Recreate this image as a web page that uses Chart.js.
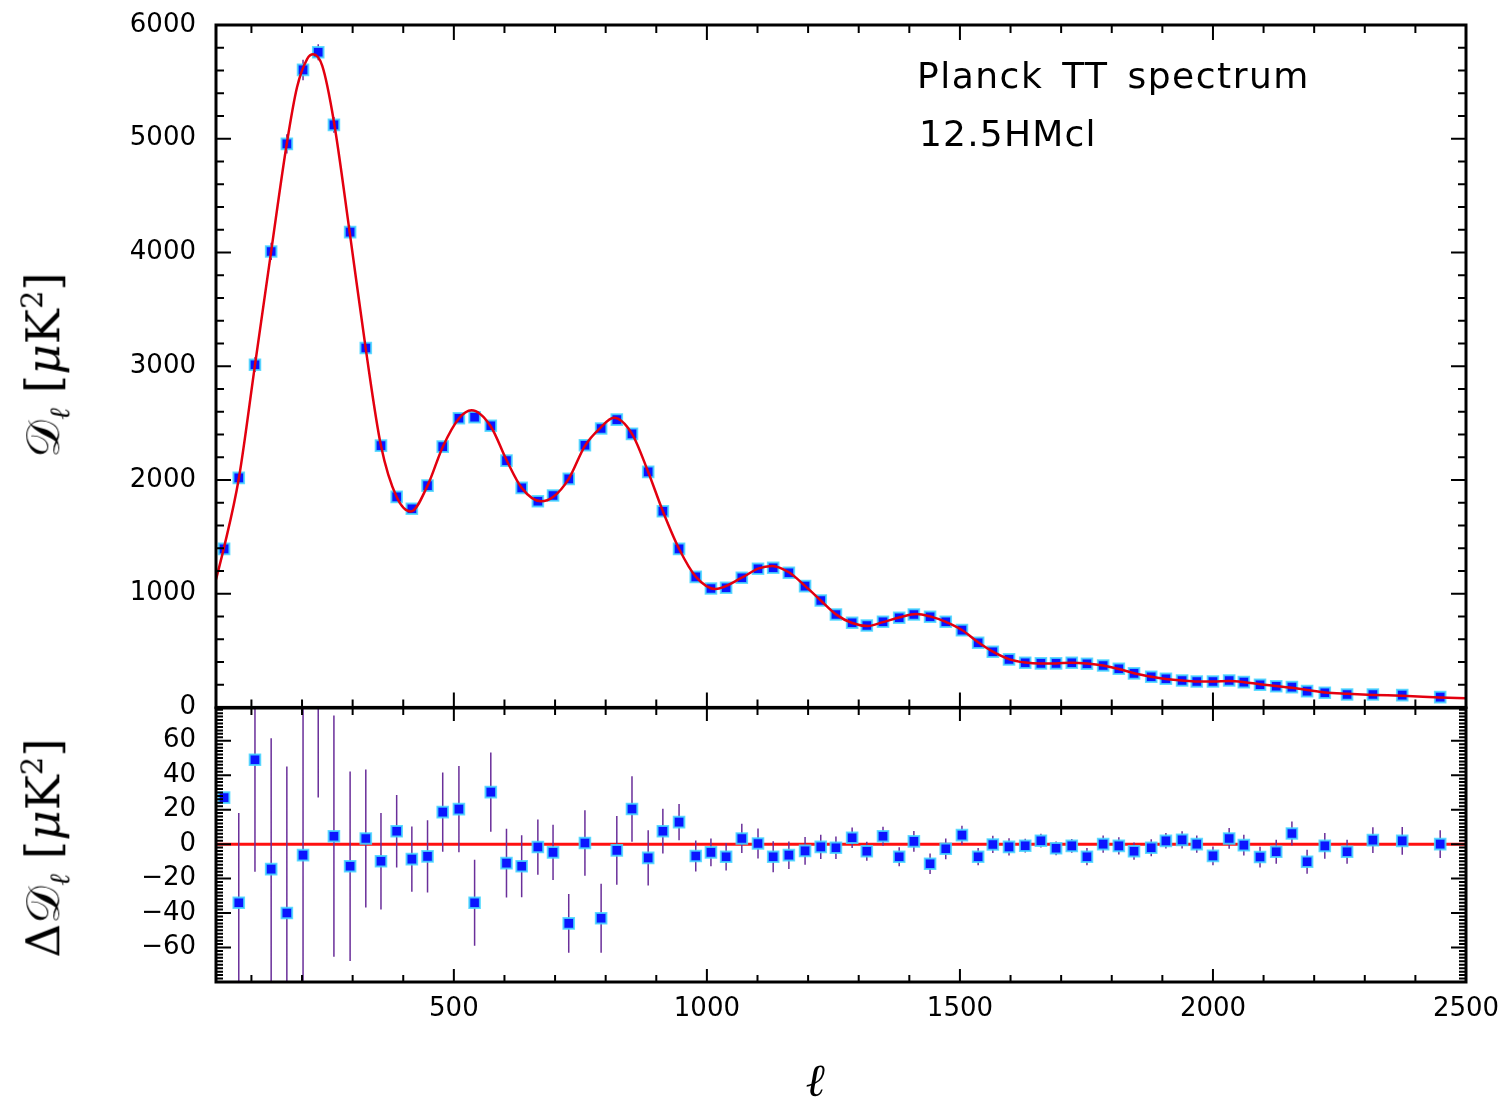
<!DOCTYPE html>
<html>
<head>
<meta charset="utf-8">
<script src="https://cdn.jsdelivr.net/npm/chart.js@4.4.1/dist/chart.umd.min.js"></script>
<style>
  html,body{margin:0;padding:0;background:#fff;}
  #wrap{position:relative;width:1511px;height:1104px;overflow:hidden;}
  canvas{position:absolute;left:0;}
  .txt{position:absolute;color:#000;white-space:nowrap;font-family:"DejaVu Sans",sans-serif;}
  .rot{position:absolute;white-space:nowrap;transform:translate(-50%,-50%) rotate(-90deg);color:#000;font-family:"DejaVu Serif",serif;}
</style>
</head>
<body>
<div id="wrap">
  <canvas id="cTop" width="1511" height="723" style="top:0"></canvas>
  <canvas id="cBot" width="1511" height="414" style="top:690px"></canvas>
  <div class="txt" style="left:917px;top:58px;font-size:36px;line-height:36px;letter-spacing:1.5px;word-spacing:6px;">Planck TT spectrum</div>
  <div class="txt" style="left:919px;top:116px;font-size:36px;line-height:36px;letter-spacing:1.2px;">12.5HMcl</div>
  <div class="rot" style="left:46px;top:365px;font-size:47px;">𝒟<sub style="font-size:28px;font-style:italic">ℓ</sub> [<i>μ</i>K<sup style="font-size:29px">2</sup>]</div>
  <div class="rot" style="left:46px;top:848px;font-size:47px;">Δ𝒟<sub style="font-size:28px;font-style:italic">ℓ</sub> [<i>μ</i>K<sup style="font-size:29px">2</sup>]</div>
  <div class="txt" style="left:815px;top:1080px;transform:translate(-50%,-50%);font-family:'DejaVu Serif',serif;font-style:italic;font-size:46px;">ℓ</div>
</div>
<script>
// ---- data ----
const ell = [46,75,107,139,170,202,232,263,295,326,356,387,417,448,478,510,541,573,604,634,666,696,727,759,791,822,852,884,913,945,978,1008,1038,1069,1101,1131,1162,1194,1225,1255,1287,1316,1348,1380,1409,1441,1472,1504,1536,1565,1597,1629,1660,1690,1721,1751,1783,1814,1844,1878,1907,1939,1968,2000,2032,2061,2093,2125,2156,2186,2221,2265,2316,2374,2449];
const dlData = [1394,2018,3013,4009,4955,5605,5760,5122,4179,3160,2302,1851,1746,1950,2293,2542,2551,2477,2170,1930,1813,1863,2009,2305,2452,2530,2405,2071,1725,1394,1148,1045,1052,1140,1219,1228,1184,1066,940,817,744,720,753,788,817,797,753,679,569,489,422,393,387,387,393,384,369,340,299,270,252,237,228,228,237,222,199,186,178,143,129,114,114,108,90];
const residuals = [27,-34,49,-14.5,-40,-6.4,98,4.6,-12.8,3.3,-9.9,7.5,-8.7,-7.1,18.6,20.3,-34,30.2,-11,-12.8,-1.7,-4.8,-46,0.7,-43,-3.6,20.4,-8,7.5,12.8,-6.9,-4.8,-7.3,3.3,0.4,-7.3,-6.4,-3.9,-1.6,-2.1,3.7,-4.1,4.6,-7.3,1.6,-11.4,-2.7,5.2,-7.3,-0.2,-1.6,-0.9,2,-2.4,-1,-7.3,0,-1,-4.1,-2.1,1.9,2.5,0,-6.8,3.3,-0.6,-7.5,-4.4,6.2,-10.2,-1,-4.4,2.3,1.9,0];
const errors = [0,52,65,76,85,90,71,70,55,40,28,21,19,21,23,25,25,23,20,18,16,16,17,19,20,20,19,16,13,10.5,9,8,8,8.5,8.7,9,8,8,7,6.5,6,5.5,5.5,5.5,6,6,6,5.5,5,5,5,4,4,4,4,5,5,5,5,5,4.5,5,5,5.5,6,6,6,7,7,7,7.5,7,7.5,8,8];
const theoryEll = [30,45,75,107,139,170,190,210,222,240,263,295,326,356,387,415,448,478,510,535,573,604,634,672,696,727,759,790,816,852,884,913,945,978,1017,1069,1101,1129,1162,1194,1225,1255,1287,1318,1348,1380,1414,1441,1472,1504,1536,1565,1597,1629,1660,1690,1721,1751,1783,1814,1844,1878,1907,1939,1969,2000,2032,2062,2093,2125,2156,2186,2221,2265,2316,2374,2449,2500];
const theoryDl = [1125,1390,2010,3010,4010,4960,5450,5700,5742,5640,5150,4150,3150,2300,1850,1722,1950,2290,2540,2612,2470,2175,1930,1812,1850,2010,2300,2460,2546,2405,2070,1725,1395,1150,1041,1140,1220,1244,1188,1068,940,818,742,716,750,790,822,800,752,680,572,490,425,395,386,387,392,385,368,338,300,270,250,236,228,228,232,222,203,188,172,153,132,120,110,102,88,80];
const zeroLine = [{x:30,y:0},{x:2500,y:0}];
const xTickValues = [500,1000,1500,2000,2500];
const topYTickValues = [0,1000,2000,3000,4000,5000,6000];
const botYTickValues = [-60,-40,-20,0,20,40,60];

// ---- helpers ----
const FONT = {family:'DejaVu Sans', size:26};
function range(a,b,s){const r=[];for(let v=a;v<=b+1e-9;v+=s)r.push(+v.toFixed(6));return r;}
const fmt = v => String(v).replace('-','\u2212');

function framePlugin(cfg){
  return {
    id:'frame_'+cfg.name,
    afterDraw(chart){
      const ctx=chart.ctx, a=chart.chartArea, xs=chart.scales.x, ys=chart.scales.y;
      ctx.save();
      ctx.strokeStyle='#000';
      ctx.lineWidth=2;
      ctx.beginPath();
      range(100,2400,100).forEach(v=>{
        const p=xs.getPixelForValue(v), major=(v%500===0), L=major?cfg.xMaj:cfg.xMin;
        ctx.moveTo(p,a.top);ctx.lineTo(p,a.top+L);
        ctx.moveTo(p,a.bottom);ctx.lineTo(p,a.bottom-L);
      });
      range(cfg.yStart,cfg.yEnd,cfg.yMinStep).forEach(v=>{
        const p=ys.getPixelForValue(v);
        if(p<a.top+1||p>a.bottom-1)return;
        const major=(Math.abs(v%cfg.yMajStep)<1e-6), L=major?cfg.yMaj:cfg.yMin;
        ctx.moveTo(a.left,p);ctx.lineTo(a.left+L,p);
        ctx.moveTo(a.right,p);ctx.lineTo(a.right-L,p);
      });
      ctx.stroke();
      ctx.lineWidth=3;
      ctx.strokeRect(a.left,a.top,a.right-a.left,a.bottom-a.top);
      ctx.restore();
    }
  };
}

function drawErrorBars(chart, yVals){
  const ctx=chart.ctx, a=chart.chartArea, xs=chart.scales.x, ys=chart.scales.y;
  ctx.save();
  ctx.beginPath();ctx.rect(a.left,a.top,a.right-a.left,a.bottom-a.top);ctx.clip();
  ctx.strokeStyle='#6a2f9a';ctx.lineWidth=1.5;
  ctx.beginPath();
  ell.forEach((l,i)=>{
    if(!errors[i])return;
    const px=xs.getPixelForValue(l);
    ctx.moveTo(px,ys.getPixelForValue(yVals[i]-errors[i]));
    ctx.lineTo(px,ys.getPixelForValue(yVals[i]+errors[i]));
  });
  ctx.stroke();
  ctx.restore();
}

const pointStyleOpts = {pointStyle:'rect', pointRadius:7.5, pointHoverRadius:7.5, backgroundColor:'#0a14ff', borderColor:'rgba(70,215,255,0.85)', borderWidth:2};
const yGrid = {display:false, drawTicks:true, tickLength:20};

// ---- top panel ----
new Chart(document.getElementById('cTop'), {
  type:'scatter',
  data:{datasets:[
    {type:'line', data:theoryEll.map((l,i)=>({x:l,y:theoryDl[i]})), borderColor:'#e3000f', borderWidth:2.5, pointRadius:0, cubicInterpolationMode:'monotone', fill:false, order:1},
    Object.assign({type:'scatter', data:ell.map((l,i)=>({x:l,y:dlData[i]})), order:2}, pointStyleOpts)
  ]},
  options:{
    responsive:false, animation:false, devicePixelRatio:1,
    layout:{padding:{top:25,right:45,bottom:15,left:0}},
    plugins:{legend:{display:false}, tooltip:{enabled:false}},
    scales:{
      x:{type:'linear', min:30, max:2500, display:false},
      y:{type:'linear', min:0, max:6000,
         afterBuildTicks:s=>{s.ticks=topYTickValues.map(v=>({value:v}));},
         afterFit:s=>{s.width=216;},
         grid:yGrid, border:{display:false},
         ticks:{font:FONT, color:'#000', padding:0, callback:fmt}}
    }
  },
  plugins:[
    {id:'errTop', beforeDatasetsDraw(chart){drawErrorBars(chart, dlData);}},
    framePlugin({name:'top', xMaj:15, xMin:8, yStart:0, yEnd:6000, yMinStep:200, yMajStep:1000, yMaj:15, yMin:8})
  ]
});

// ---- bottom panel ----
new Chart(document.getElementById('cBot'), {
  type:'scatter',
  data:{datasets:[
    {type:'line', data:zeroLine, borderColor:'#ff1010', borderWidth:3, pointRadius:0, fill:false, order:3},
    Object.assign({type:'scatter', data:ell.map((l,i)=>({x:l,y:residuals[i]})), order:1}, pointStyleOpts)
  ]},
  options:{
    responsive:false, animation:false, devicePixelRatio:1,
    layout:{padding:{top:18,right:45,bottom:62,left:0}},
    plugins:{legend:{display:false}, tooltip:{enabled:false}},
    scales:{
      x:{type:'linear', min:30, max:2500,
         afterBuildTicks:s=>{s.ticks=xTickValues.map(v=>({value:v}));},
         afterFit:s=>{s.height=60;},
         grid:{display:false, drawTicks:true, tickLength:12}, border:{display:false},
         ticks:{font:FONT, color:'#000', padding:0, maxRotation:0, autoSkip:false, callback:fmt}},
      y:{type:'linear', min:-80, max:79,
         afterBuildTicks:s=>{s.ticks=botYTickValues.map(v=>({value:v}));},
         afterFit:s=>{s.width=216;},
         grid:yGrid, border:{display:false},
         ticks:{font:FONT, color:'#000', padding:0, callback:fmt}}
    }
  },
  plugins:[
    {id:'errBot', afterDatasetDraw(chart,args){ if(args.meta.type==='line') drawErrorBars(chart, residuals);}},
    framePlugin({name:'bot', xMaj:13, xMin:7, yStart:-80, yEnd:78, yMinStep:2, yMajStep:20, yMaj:15, yMin:7})
  ]
});
</script>
</body>
</html>
